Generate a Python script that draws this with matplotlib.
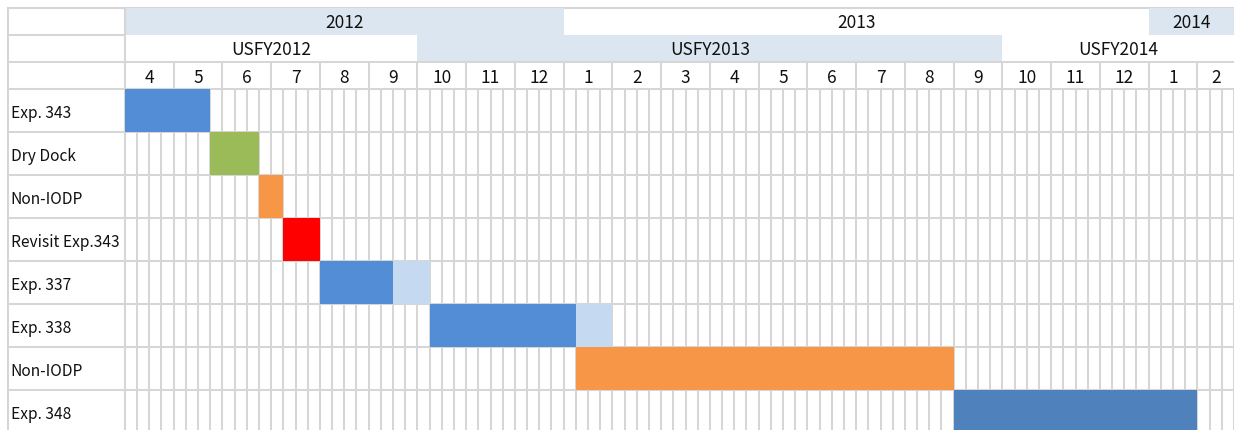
import matplotlib
matplotlib.use("Agg")
import matplotlib.pyplot as plt
from matplotlib.patches import Rectangle

plt.rcParams["font.family"] = ["Noto Sans CJK JP", "DejaVu Sans"]

# ================= DATA (weeks counted from start of April 2012) =================

tasks = ["Exp. 343", "Dry Dock", "Non-IODP", "Revisit Exp.343",
         "Exp. 337", "Exp. 338", "Non-IODP", "Exp. 348"]
starts = [0, 7, 11, 13, 16, 25, 37, 68]
durations = [7, 4, 2, 3, 6, 12, 31, 20]
colors = ["#538DD5", "#9BBB59", "#F79646", "#FF0000",
          "#538DD5", "#538DD5", "#F79646", "#4F81BD"]

# lighter "contingency" extensions
ext_rows = [4, 5]
ext_starts = [22, 37]
ext_durations = [3, 3]
ext_color = "#C5D9F1"

months = [4, 5, 6, 7, 8, 9, 10, 11, 12,
          1, 2, 3, 4, 5, 6, 7, 8, 9, 10, 11, 12,
          1, 2]
years = ["2012", "2013", "2014"]
year_months = [9, 12, 2]
fys = ["USFY2012", "USFY2013", "USFY2014"]
fy_months = [6, 12, 5]

# ================= LAYOUT =================

WPM = 4                 # weeks per month column
X_LEFT = -10.25         # figure left edge
X_COL = -9.6            # left border of label column
X_RIGHT = 91.0          # figure right edge (last month cut off)
HDR = 27 / 43           # header row height in data-row units
Y_TOP = -3 * HDR - 8 / 43
Y_BOT = 7.93
GRID = "#D6D6D6"
BAND = "#DCE6F1"
LW = 1.45
TXT = "#111111"

fig = plt.figure(figsize=(12.34, 4.30), dpi=100)
ax = fig.add_axes([0, 0, 1, 1])
ax.set_xlim(X_LEFT, X_RIGHT)
ax.set_ylim(Y_BOT, Y_TOP)
ax.axis("off")

y_year = -3 * HDR
y_fy = -2 * HDR
y_mon = -HDR

# header bands
def band_row(labels, spans, y0, first_colored):
    pos = 0
    for i, (lab, n) in enumerate(zip(labels, spans)):
        x0 = pos * WPM
        x1 = min((pos + n) * WPM, X_RIGHT)
        colored = (i % 2 == 0) == first_colored
        if colored:
            ax.add_patch(Rectangle((x0, y0), x1 - x0, HDR, color=BAND, lw=0, zorder=1))
        ax.text((x0 + x1) / 2, y0 + HDR / 2 + 0.04, lab, ha="center", va="center",
                fontsize=12.5, color=TXT, zorder=5)
        pos += n

band_row(years, year_months, y_year, True)
band_row(fys, fy_months, y_fy, False)

# top line
ax.plot([X_COL, X_RIGHT], [y_year, y_year], color=GRID, lw=LW, zorder=0.5)

# month row
for i, m in enumerate(months):
    x0 = i * WPM
    x1 = min(x0 + WPM, X_RIGHT)
    ax.text((x0 + x1) / 2, y_mon + HDR / 2 + 0.06, str(m), ha="center", va="center",
            fontsize=12.5, color=TXT, zorder=5)
    ax.plot([x0, x0], [y_mon, 0], color=GRID, lw=LW, zorder=2)
ax.plot([0, X_RIGHT], [y_mon, y_mon], color=GRID, lw=LW, zorder=2)

# label column
for yy in [y_year, y_fy, y_mon, 0]:
    ax.plot([X_COL, 0], [yy, yy], color=GRID, lw=LW, zorder=2)
ax.plot([X_COL, X_COL], [y_year, Y_BOT], color=GRID, lw=LW, zorder=2)
ax.plot([0, 0], [y_year, Y_BOT], color=GRID, lw=LW, zorder=2)

# data grid
n_weeks = int(X_RIGHT) + 1
for w in range(n_weeks):
    ax.plot([w, w], [0, Y_BOT], color=GRID, lw=LW, zorder=2)
for r in range(len(tasks) + 1):
    ax.plot([X_COL, X_RIGHT], [r, r], color=GRID, lw=LW, zorder=2)

# task labels and bars
for r, (name, s, d, c) in enumerate(zip(tasks, starts, durations, colors)):
    ax.text(X_COL + 0.22, r + 0.56, name, ha="left", va="center",
            fontsize=11.2, color=TXT, zorder=5)
    ax.add_patch(Rectangle((s, r), d, 1, color=c, lw=0, zorder=3))

for r, s, d in zip(ext_rows, ext_starts, ext_durations):
    ax.add_patch(Rectangle((s, r), d, 1, color=ext_color, lw=0, zorder=3))

fig.savefig("out.png", dpi=100)
